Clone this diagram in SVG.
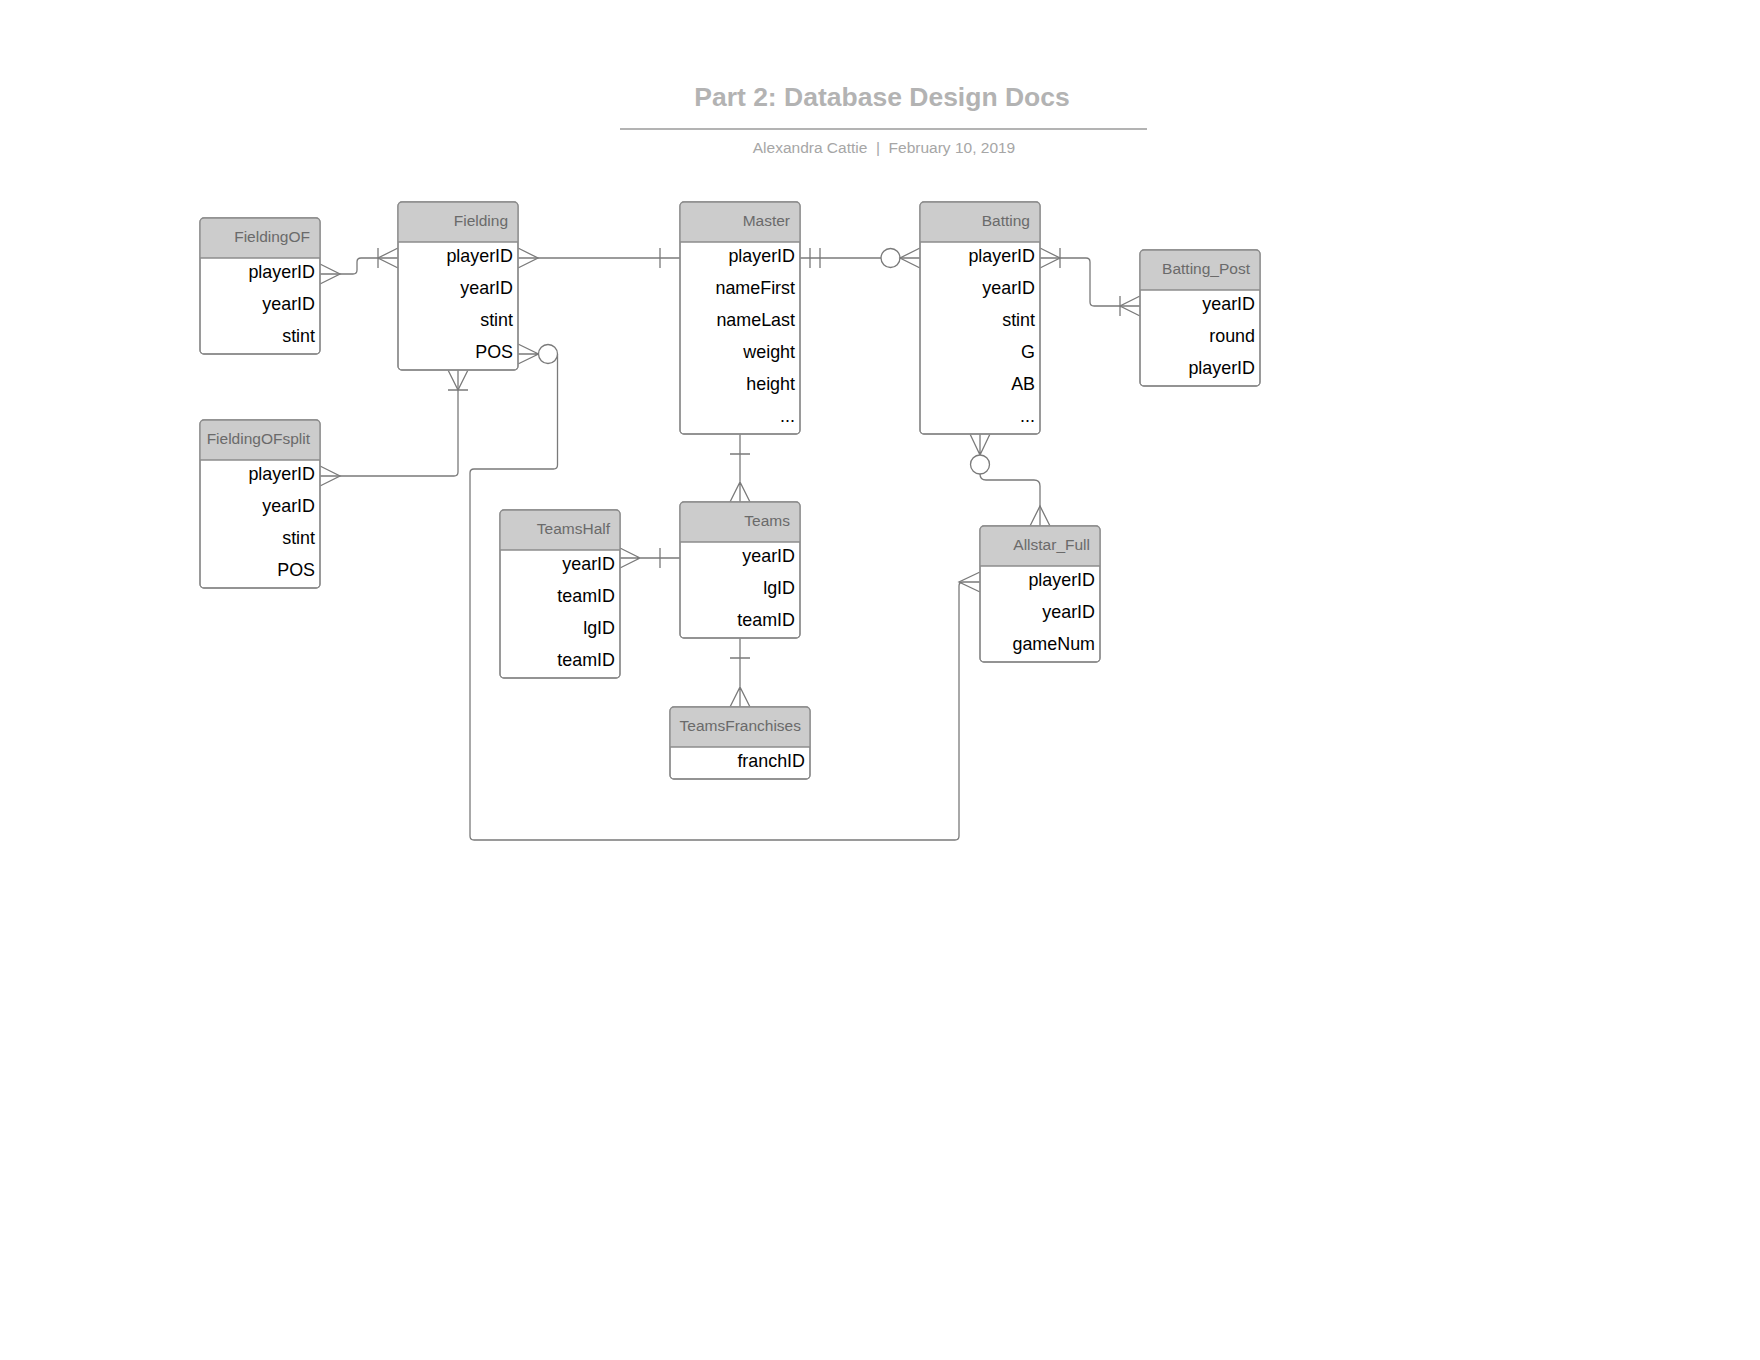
<svg xmlns="http://www.w3.org/2000/svg" width="1760" height="1360" viewBox="0 0 1760 1360">
<style>
text{font-family:"Liberation Sans",Arial,sans-serif}
.title{font-size:26.5px;font-weight:bold;fill:#b3b3b3}
.sub{font-size:15.5px;fill:#a6a6a6;white-space:pre}
.box{fill:#fff;stroke:#8c8c8c;stroke-width:1.3}
.frame{fill:none;stroke:#8c8c8c;stroke-width:1.3}
.hdr{fill:#cccccc;stroke:none}
.sep{stroke:#8c8c8c;stroke-width:1.3}
.ht{font-size:15.5px;fill:#6a6a6a;text-anchor:end}
.bt{font-size:17.9px;fill:#000;text-anchor:end}
.c{fill:none;stroke:#7a7a7a;stroke-width:1.3}
.o{fill:#fff;stroke:#7a7a7a;stroke-width:1.3}
</style>
<rect width="1760" height="1360" fill="#fff"/>
<g id="title">
<text class="title" x="882" y="105.7" text-anchor="middle">Part 2: Database Design Docs</text>
<line x1="620" y1="129" x2="1147" y2="129" stroke="#b3b3b3" stroke-width="2"/>
<text class="sub" x="884" y="152.7" text-anchor="middle">Alexandra Cattie  |  February 10, 2019</text>
</g>
<g id="connectors">
<!-- FieldingOF - Fielding -->
<path class="c" d="M320 274 L353 274 Q357 274 357 270 L357 262 Q357 258 361 258 L398 258"/>
<path class="c" d="M320 264 L340 274 L320 284"/>
<path class="c" d="M398 248 L378 258 L398 268 M378 248 L378 268"/>
<!-- Fielding - FieldingOFsplit -->
<path class="c" d="M458 370 L458 472 Q458 476 454 476 L320 476"/>
<path class="c" d="M448 370 L458 390 L468 370 M448 390 L468 390"/>
<path class="c" d="M320 466 L340 476 L320 486"/>
<!-- Fielding POS - Allstar_Full -->
<path class="c" d="M518 344 L538.5 354 L518 364 M518 354 L538.5 354"/>
<path class="c" d="M557.5 354 L557.5 465 Q557.5 469 553.5 469 L474 469 Q470 469 470 473 L470 836 Q470 840 474 840 L955 840 Q959 840 959 836 L959 586 Q959 582 963 582 L980 582"/>
<circle class="o" cx="548" cy="354" r="9.5"/>
<path class="c" d="M980 572 L959 582 L980 592"/>
<!-- Fielding - Master -->
<path class="c" d="M518 258 L680 258"/>
<path class="c" d="M518 248 L538 258 L518 268 M660 248 L660 268"/>
<!-- Master - Batting -->
<path class="c" d="M800 258 L920 258"/>
<path class="c" d="M810 248 L810 268 M820 248 L820 268"/>
<circle class="o" cx="890.5" cy="258" r="9.5"/>
<path class="c" d="M920 248 L900 258 L920 268"/>
<!-- Batting - Batting_Post -->
<path class="c" d="M1040 258 L1086 258 Q1090 258 1090 262 L1090 302 Q1090 306 1094 306 L1140 306"/>
<path class="c" d="M1040 248 L1060 258 L1040 268 M1060 248 L1060 268"/>
<path class="c" d="M1140 296 L1120 306 L1140 316 M1120 296 L1120 316"/>
<!-- Batting - Allstar_Full -->
<path class="c" d="M970 434 L980 455 L990 434 M980 434 L980 455"/>
<circle class="o" cx="980" cy="464.5" r="9.5"/>
<path class="c" d="M980 474 Q980 480 986 480 L1034 480 Q1040 480 1040 486 L1040 526"/>
<path class="c" d="M1030 526 L1040 506 L1050 526"/>
<!-- Master - Teams -->
<path class="c" d="M740 434 L740 502 M730 454 L750 454 M730 502 L740 482 L750 502"/>
<!-- TeamsHalf - Teams -->
<path class="c" d="M620 558 L680 558 M620 548 L640 558 L620 568 M660 548 L660 568"/>
<!-- Teams - TeamsFranchises -->
<path class="c" d="M740 638 L740 707 M730 658 L750 658 M730 707 L740 687 L750 707"/>
</g>
<g id="FieldingOF">
<rect class="box" x="200" y="218" width="120" height="136" rx="4"/>
<path class="hdr" d="M200 258 L200 222 Q200 218 204 218 L316 218 Q320 218 320 222 L320 258 Z"/>
<rect class="frame" x="200" y="218" width="120" height="136" rx="4"/>
<line class="sep" x1="200" y1="258" x2="320" y2="258"/>
<text class="ht" x="310" y="242">FieldingOF</text>
<text class="bt" x="315" y="278">playerID</text>
<text class="bt" x="315" y="310">yearID</text>
<text class="bt" x="315" y="342">stint</text>
</g>
<g id="Fielding">
<rect class="box" x="398" y="202" width="120" height="168" rx="4"/>
<path class="hdr" d="M398 242 L398 206 Q398 202 402 202 L514 202 Q518 202 518 206 L518 242 Z"/>
<rect class="frame" x="398" y="202" width="120" height="168" rx="4"/>
<line class="sep" x1="398" y1="242" x2="518" y2="242"/>
<text class="ht" x="508" y="226">Fielding</text>
<text class="bt" x="513" y="262">playerID</text>
<text class="bt" x="513" y="294">yearID</text>
<text class="bt" x="513" y="326">stint</text>
<text class="bt" x="513" y="358">POS</text>
</g>
<g id="FieldingOFsplit">
<rect class="box" x="200" y="420" width="120" height="168" rx="4"/>
<path class="hdr" d="M200 460 L200 424 Q200 420 204 420 L316 420 Q320 420 320 424 L320 460 Z"/>
<rect class="frame" x="200" y="420" width="120" height="168" rx="4"/>
<line class="sep" x1="200" y1="460" x2="320" y2="460"/>
<text class="ht" x="310" y="444">FieldingOFsplit</text>
<text class="bt" x="315" y="480">playerID</text>
<text class="bt" x="315" y="512">yearID</text>
<text class="bt" x="315" y="544">stint</text>
<text class="bt" x="315" y="576">POS</text>
</g>
<g id="Master">
<rect class="box" x="680" y="202" width="120" height="232" rx="4"/>
<path class="hdr" d="M680 242 L680 206 Q680 202 684 202 L796 202 Q800 202 800 206 L800 242 Z"/>
<rect class="frame" x="680" y="202" width="120" height="232" rx="4"/>
<line class="sep" x1="680" y1="242" x2="800" y2="242"/>
<text class="ht" x="790" y="226">Master</text>
<text class="bt" x="795" y="262">playerID</text>
<text class="bt" x="795" y="294">nameFirst</text>
<text class="bt" x="795" y="326">nameLast</text>
<text class="bt" x="795" y="358">weight</text>
<text class="bt" x="795" y="390">height</text>
<text class="bt" x="795" y="422">...</text>
</g>
<g id="Batting">
<rect class="box" x="920" y="202" width="120" height="232" rx="4"/>
<path class="hdr" d="M920 242 L920 206 Q920 202 924 202 L1036 202 Q1040 202 1040 206 L1040 242 Z"/>
<rect class="frame" x="920" y="202" width="120" height="232" rx="4"/>
<line class="sep" x1="920" y1="242" x2="1040" y2="242"/>
<text class="ht" x="1030" y="226">Batting</text>
<text class="bt" x="1035" y="262">playerID</text>
<text class="bt" x="1035" y="294">yearID</text>
<text class="bt" x="1035" y="326">stint</text>
<text class="bt" x="1035" y="358">G</text>
<text class="bt" x="1035" y="390">AB</text>
<text class="bt" x="1035" y="422">...</text>
</g>
<g id="Batting_Post">
<rect class="box" x="1140" y="250" width="120" height="136" rx="4"/>
<path class="hdr" d="M1140 290 L1140 254 Q1140 250 1144 250 L1256 250 Q1260 250 1260 254 L1260 290 Z"/>
<rect class="frame" x="1140" y="250" width="120" height="136" rx="4"/>
<line class="sep" x1="1140" y1="290" x2="1260" y2="290"/>
<text class="ht" x="1250" y="274">Batting_Post</text>
<text class="bt" x="1255" y="310">yearID</text>
<text class="bt" x="1255" y="342">round</text>
<text class="bt" x="1255" y="374">playerID</text>
</g>
<g id="TeamsHalf">
<rect class="box" x="500" y="510" width="120" height="168" rx="4"/>
<path class="hdr" d="M500 550 L500 514 Q500 510 504 510 L616 510 Q620 510 620 514 L620 550 Z"/>
<rect class="frame" x="500" y="510" width="120" height="168" rx="4"/>
<line class="sep" x1="500" y1="550" x2="620" y2="550"/>
<text class="ht" x="610" y="534">TeamsHalf</text>
<text class="bt" x="615" y="570">yearID</text>
<text class="bt" x="615" y="602">teamID</text>
<text class="bt" x="615" y="634">lgID</text>
<text class="bt" x="615" y="666">teamID</text>
</g>
<g id="Teams">
<rect class="box" x="680" y="502" width="120" height="136" rx="4"/>
<path class="hdr" d="M680 542 L680 506 Q680 502 684 502 L796 502 Q800 502 800 506 L800 542 Z"/>
<rect class="frame" x="680" y="502" width="120" height="136" rx="4"/>
<line class="sep" x1="680" y1="542" x2="800" y2="542"/>
<text class="ht" x="790" y="526">Teams</text>
<text class="bt" x="795" y="562">yearID</text>
<text class="bt" x="795" y="594">lgID</text>
<text class="bt" x="795" y="626">teamID</text>
</g>
<g id="TeamsFranchises">
<rect class="box" x="670" y="707" width="140" height="72" rx="4"/>
<path class="hdr" d="M670 747 L670 711 Q670 707 674 707 L806 707 Q810 707 810 711 L810 747 Z"/>
<rect class="frame" x="670" y="707" width="140" height="72" rx="4"/>
<line class="sep" x1="670" y1="747" x2="810" y2="747"/>
<text class="ht" x="801" y="731">TeamsFranchises</text>
<text class="bt" x="805" y="767">franchID</text>
</g>
<g id="Allstar_Full">
<rect class="box" x="980" y="526" width="120" height="136" rx="4"/>
<path class="hdr" d="M980 566 L980 530 Q980 526 984 526 L1096 526 Q1100 526 1100 530 L1100 566 Z"/>
<rect class="frame" x="980" y="526" width="120" height="136" rx="4"/>
<line class="sep" x1="980" y1="566" x2="1100" y2="566"/>
<text class="ht" x="1090" y="550">Allstar_Full</text>
<text class="bt" x="1095" y="586">playerID</text>
<text class="bt" x="1095" y="618">yearID</text>
<text class="bt" x="1095" y="650">gameNum</text>
</g>
</svg>
